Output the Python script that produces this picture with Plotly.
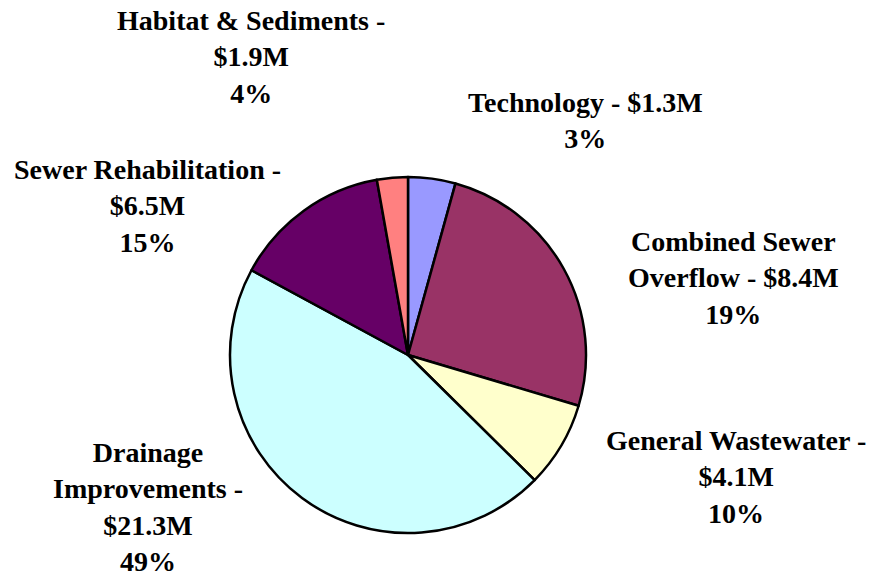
import plotly.graph_objects as go

# ---- data ----
categories = ["Technology", "Combined Sewer Overflow", "General Wastewater",
              "Drainage Improvements", "Sewer Rehabilitation", "Habitat & Sediments"]
amounts_musd = [1.3, 8.4, 4.1, 21.3, 6.5, 1.9]          # label amounts ($M)
label_pct = [3, 19, 10, 49, 15, 4]                       # label percentages
slice_share = [4.3, 25.3, 7.8, 45.5, 14.3, 2.8]          # slice sizes as drawn
colors = ["#9999FF", "#993366", "#FFFFCC", "#CCFFFF", "#660066", "#FF8080"]

# ---- label layout (wrapping + pixel centers) ----
name_display = ["Technology", "Combined Sewer<br>Overflow", "General Wastewater",
                "Drainage<br>Improvements", "Sewer Rehabilitation", "Habitat & Sediments"]
joiner = [" - ", " - ", " -<br>", " -<br>", " -<br>", " -<br>"]
label_px = [(585, 121), (733, 278), (736, 477), (148, 507), (147, 206), (251, 57)]

W, H = 874, 575
cx, cy, r = 408, 355, 178

fig = go.Figure(go.Pie(
    labels=categories,
    values=slice_share,
    sort=False,
    direction="clockwise",
    rotation=0,
    textinfo="none",
    hoverinfo="label+percent",
    marker=dict(colors=colors, line=dict(color="black", width=2.5)),
    domain=dict(x=[(cx - r) / W, (cx + r) / W], y=[1 - (cy + r) / H, 1 - (cy - r) / H]),
    showlegend=False,
))

annotations = []
for i, name in enumerate(categories):
    txt = f"{name_display[i]}{joiner[i]}${amounts_musd[i]}M<br>{label_pct[i]}%"
    px, py = label_px[i]
    annotations.append(dict(
        text=txt, x=px / W, y=1 - py / H, xref="paper", yref="paper",
        xanchor="center", yanchor="middle", showarrow=False, align="center",
        borderpad=0,
        font=dict(family="Liberation Serif", size=28, color="black", weight="bold"),
    ))

fig.update_layout(
    width=W, height=H,
    margin=dict(l=0, r=0, t=0, b=0),
    paper_bgcolor="white", plot_bgcolor="white",
    annotations=annotations,
)

fig.write_html("out.html")
